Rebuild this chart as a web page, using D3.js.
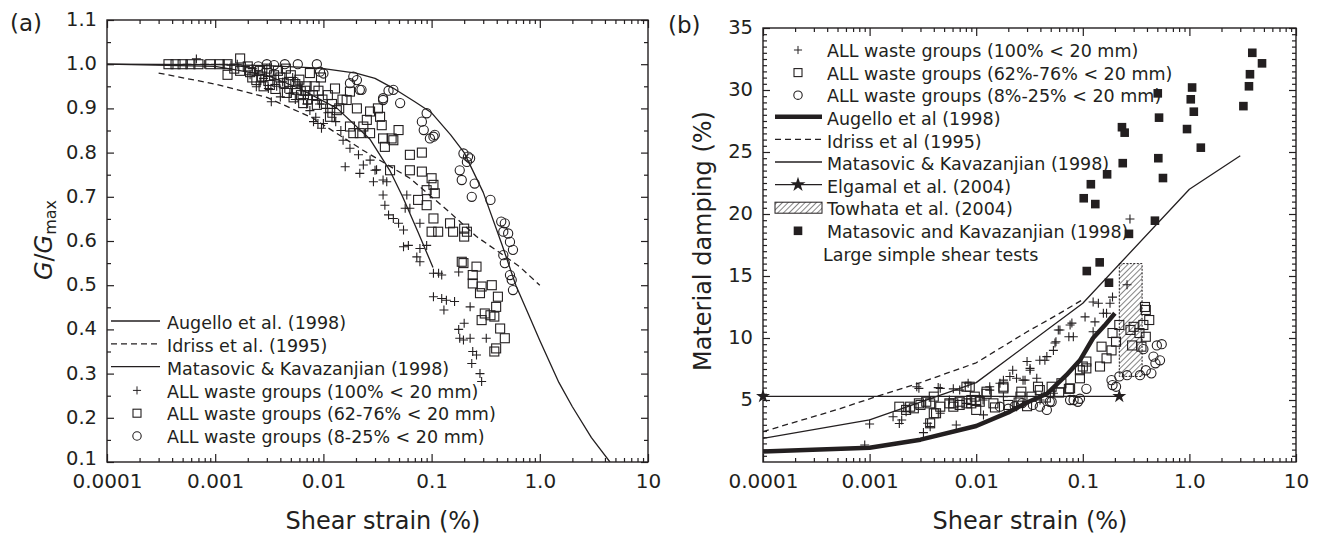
<!DOCTYPE html>
<html>
<head>
<meta charset="utf-8">
<script src="https://cdn.jsdelivr.net/npm/d3@7"></script>
<style>
  body { margin: 0; background: #fff; }
  svg text { font-family: "DejaVu Sans", Verdana, sans-serif; fill: #231f20; }
</style>
</head>
<body>
<svg id="chart" width="1319" height="535"></svg>
<script>
// ---------- shared axis values ----------
const strainTicks = [1e-4, 1e-3, 1e-2, 1e-1, 1, 10];
const strainTickLabels = ["0.0001", "0.001", "0.01", "0.1", "1.0", "10"];
const modulusTicks = [0.1, 0.2, 0.3, 0.4, 0.5, 0.6, 0.7, 0.8, 0.9, 1.0, 1.1];
const modulusTickLabels = ["0.1", "0.2", "0.3", "0.4", "0.5", "0.6", "0.7", "0.8", "0.9", "1.0", "1.1"];
const dampingTicks = [5, 10, 15, 20, 25, 30, 35];
const dampingTickLabels = ["5", "10", "15", "20", "25", "30", "35"];

// ---------- (a) modulus reduction: reference curves [strain %, G/Gmax] ----------
const aAugello = [[1e-4, 1.0], [0.001, 0.999], [0.003, 0.997], [0.0093, 0.991], [0.02, 0.98], [0.03, 0.968],
  [0.044, 0.946], [0.07, 0.915], [0.1, 0.89], [0.15, 0.84], [0.2, 0.80], [0.3, 0.71], [0.45, 0.59],
  [0.6, 0.50], [0.8, 0.43], [1.0, 0.375], [1.5, 0.28], [2.0, 0.225], [3.0, 0.155], [4.45, 0.1]];
const aIdriss = [[0.0003, 0.98], [0.001, 0.955], [0.003, 0.925], [0.008, 0.878], [0.023, 0.806],
  [0.063, 0.742], [0.15, 0.663], [0.26, 0.61], [0.46, 0.568], [0.65, 0.542], [1.0, 0.50]];
const aMatasovic = [[1e-4, 1.0], [0.001, 0.995], [0.003, 0.975], [0.006, 0.945], [0.0134, 0.90],
  [0.027, 0.83], [0.041, 0.76], [0.054, 0.70], [0.075, 0.62], [0.103, 0.54]];

// ---------- (a) test data [strain %, G/Gmax] ----------
const aFine = [[0.00055, 1.0], [0.00067, 1.012], [0.0008, 1.0], [0.001, 1.0], [0.0012, 1.0], [0.0014, 0.998],
  [0.0016, 1.0], [0.0019, 0.995], [0.0021, 0.976], [0.0022, 0.99], [0.0024, 0.949], [0.0025, 0.985],
  [0.0026, 0.96], [0.0028, 0.968], [0.003, 0.99], [0.0031, 0.945], [0.0033, 0.915], [0.0035, 0.975],
  [0.0037, 0.95], [0.004, 0.926], [0.0042, 0.96], [0.0044, 0.945], [0.0049, 0.934], [0.0052, 0.97],
  [0.0055, 0.92], [0.0058, 0.96], [0.0061, 0.949], [0.0065, 0.93], [0.0068, 0.94], [0.007, 0.91],
  [0.0075, 0.895], [0.0078, 0.92], [0.0081, 0.87], [0.0085, 0.88], [0.0089, 0.866], [0.0092, 0.91],
  [0.0096, 0.855], [0.01, 0.866], [0.0105, 0.9], [0.011, 0.89], [0.012, 0.88], [0.013, 0.87],
  [0.0145, 0.85], [0.0152, 0.828], [0.0159, 0.768], [0.0176, 0.81], [0.0211, 0.795], [0.0217, 0.753],
  [0.0234, 0.772], [0.027, 0.783], [0.029, 0.734], [0.030, 0.76], [0.031, 0.761], [0.0356, 0.738],
  [0.0356, 0.704], [0.037, 0.681], [0.0385, 0.734], [0.04, 0.659], [0.0443, 0.651], [0.0495, 0.64],
  [0.055, 0.625], [0.055, 0.587], [0.057, 0.674], [0.059, 0.704], [0.061, 0.59], [0.063, 0.674],
  [0.073, 0.564], [0.078, 0.64], [0.078, 0.583], [0.078, 0.553], [0.09, 0.59], [0.104, 0.527],
  [0.116, 0.527], [0.124, 0.523], [0.104, 0.474], [0.124, 0.47], [0.13, 0.444], [0.137, 0.466],
  [0.163, 0.463], [0.178, 0.53], [0.2, 0.414], [0.178, 0.40], [0.182, 0.38], [0.197, 0.376],
  [0.227, 0.451], [0.227, 0.38], [0.32, 0.38], [0.24, 0.35], [0.26, 0.342], [0.235, 0.323],
  [0.28, 0.30], [0.29, 0.282]];
const aMid = [[0.00037, 1.0], [0.00043, 1.0], [0.0005, 1.0], [0.00059, 1.0], [0.0007, 1.0], [0.0009, 1.0],
  [0.0011, 1.0], [0.0013, 0.976], [0.0013, 1.0], [0.0015, 0.99], [0.0017, 1.013], [0.0017, 0.985],
  [0.002, 0.995], [0.0021, 0.982], [0.0022, 0.97], [0.0024, 0.964], [0.0026, 0.985], [0.0027, 0.972],
  [0.0028, 0.95], [0.003, 0.99], [0.0031, 0.962], [0.0032, 0.953], [0.0035, 0.975], [0.0036, 0.944],
  [0.0038, 0.985], [0.004, 0.97], [0.0043, 0.957], [0.0045, 0.99], [0.0046, 0.935], [0.0048, 0.96],
  [0.005, 0.975], [0.0053, 0.925], [0.0055, 0.955], [0.0057, 0.942], [0.006, 0.965], [0.0062, 0.93],
  [0.0065, 0.912], [0.0068, 0.94], [0.007, 0.95], [0.0072, 0.92], [0.0075, 0.98], [0.008, 0.93],
  [0.0083, 0.95], [0.0087, 0.908], [0.009, 0.94], [0.0095, 0.97], [0.0098, 0.92], [0.011, 0.93],
  [0.0115, 0.881], [0.012, 0.91], [0.0128, 0.945], [0.0133, 0.896], [0.014, 0.9], [0.015, 0.92],
  [0.0164, 0.919], [0.0176, 0.938], [0.0176, 0.859], [0.0189, 0.844], [0.0204, 0.90], [0.0217, 0.844],
  [0.0234, 0.859], [0.0252, 0.874], [0.027, 0.893], [0.027, 0.844], [0.0319, 0.90], [0.0334, 0.881],
  [0.0346, 0.862], [0.0356, 0.832], [0.037, 0.813], [0.0413, 0.76], [0.0427, 0.832], [0.0443, 0.828],
  [0.0495, 0.851], [0.063, 0.795], [0.063, 0.76], [0.075, 0.693], [0.0813, 0.80], [0.0813, 0.757],
  [0.09, 0.715], [0.09, 0.681], [0.1, 0.742], [0.104, 0.727], [0.104, 0.651], [0.107, 0.708],
  [0.10, 0.621], [0.115, 0.621], [0.148, 0.64], [0.158, 0.621], [0.2, 0.628], [0.212, 0.621],
  [0.2, 0.61], [0.19, 0.553], [0.197, 0.55], [0.26, 0.542], [0.24, 0.523], [0.24, 0.504], [0.29, 0.497],
  [0.36, 0.50], [0.28, 0.482], [0.41, 0.474], [0.395, 0.451], [0.31, 0.436], [0.35, 0.432],
  [0.38, 0.429], [0.29, 0.421], [0.43, 0.402], [0.475, 0.38], [0.395, 0.357], [0.38, 0.35]];
const aCoarse = [[0.0025, 0.995], [0.003, 1.0], [0.0035, 0.998], [0.0044, 1.0], [0.0058, 1.0], [0.0087, 1.0],
  [0.0093, 0.983], [0.01, 0.979], [0.0176, 0.957], [0.0189, 0.972], [0.0204, 0.964], [0.0217, 0.942],
  [0.0225, 0.942], [0.0356, 0.923], [0.0356, 0.919], [0.04, 0.94], [0.0443, 0.942], [0.0512, 0.912],
  [0.0813, 0.87], [0.0846, 0.851], [0.09, 0.889], [0.0965, 0.832], [0.104, 0.836], [0.107, 0.84],
  [0.182, 0.76], [0.19, 0.738], [0.197, 0.798], [0.212, 0.779], [0.217, 0.791], [0.227, 0.787],
  [0.235, 0.70], [0.25, 0.73], [0.35, 0.693], [0.44, 0.644], [0.46, 0.621], [0.46, 0.568],
  [0.475, 0.64], [0.475, 0.55], [0.51, 0.617], [0.53, 0.598], [0.53, 0.523], [0.55, 0.512],
  [0.565, 0.58], [0.565, 0.489]];

// ---------- (b) damping: reference curves [strain %, damping %] ----------
const bAugello = [[1e-4, 0.85], [0.001, 1.15], [0.003, 1.8], [0.01, 2.9], [0.02, 4.0], [0.03, 4.8],
  [0.046, 5.5], [0.07, 7.0], [0.094, 8.2], [0.125, 10.0], [0.16, 11.0], [0.2, 12.0]];
const bIdriss = [[1e-4, 2.45], [0.00053, 4.3], [0.001, 5.1], [0.003, 6.4], [0.01, 8.0], [0.03, 10.5],
  [0.057, 11.85], [0.1, 13.1]];
const bMatasovic = [[1e-4, 1.9], [0.001, 3.4], [0.01, 6.4], [0.1, 12.8], [1.0, 22.0], [3.0, 24.7]];
const bElgamal = [[1e-4, 5.3], [0.22, 5.3]];
const towhataStrain = [0.22, 0.36];
const towhataDamping = [6.9, 16.0];
const bLargeShear = [[3.89, 33.0], [4.80, 32.15], [3.70, 31.27], [3.62, 30.3], [3.21, 28.7],
  [1.06, 30.2], [1.03, 29.25], [1.10, 28.25], [0.95, 26.85], [1.28, 25.35],
  [0.505, 29.73], [0.519, 27.77], [0.511, 24.5], [0.565, 22.9], [0.475, 19.46],
  [0.233, 27.0], [0.247, 26.56], [0.237, 24.1], [0.169, 23.2], [0.119, 22.4], [0.102, 21.27],
  [0.131, 20.8], [0.271, 18.4], [0.144, 16.1], [0.109, 15.4], [0.176, 14.46]];

// ---------- (b) test data [strain %, damping %] ----------
const bFine = [[0.0009, 1.37], [0.001, 3.06], [0.00166, 3.65], [0.0019, 3.1], [0.002, 3.39], [0.0022, 4.06],
  [0.00277, 6.07], [0.0029, 5.94], [0.0032, 2.37], [0.0035, 3.12], [0.0037, 2.85], [0.0044, 6.0],
  [0.0046, 3.93], [0.0046, 5.94], [0.0056, 5.0], [0.0061, 5.9], [0.0065, 2.98], [0.007, 5.8],
  [0.0081, 4.73], [0.0084, 6.35], [0.0116, 5.0], [0.0117, 3.8], [0.0134, 5.8], [0.0134, 6.07],
  [0.0167, 6.35], [0.018, 5.27], [0.018, 6.6], [0.0207, 6.9], [0.022, 7.4], [0.0239, 4.46],
  [0.0239, 6.75], [0.0275, 6.6], [0.0287, 6.6], [0.030, 8.1], [0.032, 7.4], [0.032, 7.55],
  [0.037, 6.75], [0.0395, 8.2], [0.0397, 5.0], [0.0441, 8.2], [0.046, 8.5], [0.053, 9.0], [0.053, 5.54],
  [0.0548, 9.6], [0.056, 9.7], [0.0589, 10.65], [0.061, 10.65], [0.074, 10.1], [0.076, 11.05],
  [0.079, 11.2], [0.0815, 10.1], [0.105, 11.7], [0.125, 10.5], [0.125, 12.9], [0.13, 11.3],
  [0.14, 12.8], [0.156, 12.0], [0.167, 12.0], [0.18, 12.8], [0.19, 13.3], [0.26, 14.3], [0.277, 19.6]];
const bMid = [[0.0019, 4.46], [0.0022, 4.2], [0.0024, 4.46], [0.0026, 4.33], [0.0029, 4.73], [0.003, 4.6],
  [0.0034, 4.86], [0.0037, 4.73], [0.0037, 3.12], [0.004, 5.27], [0.004, 3.93], [0.0042, 3.93],
  [0.0046, 4.46], [0.0056, 4.73], [0.0061, 4.46], [0.0061, 4.73], [0.007, 4.6], [0.007, 4.86],
  [0.0081, 4.73], [0.0081, 6.07], [0.0087, 6.07], [0.009, 5.0], [0.009, 4.73], [0.0097, 5.27],
  [0.01, 4.2], [0.01, 5.0], [0.0108, 4.86], [0.0125, 5.67], [0.0125, 5.5], [0.0145, 4.73], [0.015, 4.4],
  [0.018, 5.94], [0.018, 6.07], [0.02, 4.6], [0.025, 4.8], [0.026, 5.27], [0.0265, 5.67], [0.03, 4.5],
  [0.033, 5.27], [0.038, 6.07], [0.0395, 5.8], [0.045, 5.2], [0.051, 6.07], [0.06, 5.6], [0.063, 6.35],
  [0.074, 5.9], [0.076, 5.94], [0.094, 6.75], [0.094, 7.4], [0.10, 7.7], [0.108, 7.55], [0.108, 8.1],
  [0.145, 7.7], [0.15, 9.3], [0.167, 8.36], [0.186, 9.0], [0.19, 10.4], [0.205, 9.7], [0.22, 11.05],
  [0.28, 10.65], [0.29, 9.4], [0.30, 10.9], [0.34, 10.4], [0.355, 9.3], [0.37, 11.05], [0.383, 12.5],
  [0.39, 12.26], [0.39, 10.1], [0.42, 11.45]];
const bCoarse = [[0.0167, 4.46], [0.02, 4.3], [0.023, 4.5], [0.027, 4.75], [0.034, 4.6], [0.0395, 4.46],
  [0.046, 4.2], [0.049, 4.86], [0.051, 4.86], [0.076, 5.0], [0.082, 5.0], [0.09, 4.86], [0.094, 5.1],
  [0.108, 5.9], [0.186, 6.6], [0.19, 6.2], [0.205, 6.07], [0.22, 6.9], [0.26, 7.0], [0.344, 7.0],
  [0.37, 9.1], [0.39, 7.4], [0.44, 7.15], [0.46, 8.5], [0.48, 7.96], [0.495, 9.4], [0.53, 8.2], [0.55, 9.5]];

// ---------- drawing ----------
const ink = "#231f20";
const svg = d3.select("#chart");
const defs = svg.append("defs");

defs.append("pattern").attr("id", "hatch").attr("patternUnits", "userSpaceOnUse")
  .attr("width", 4).attr("height", 4).attr("patternTransform", "rotate(45)")
  .call(p => {
    p.append("rect").attr("width", 4).attr("height", 4).attr("fill", "#fff");
    p.append("line").attr("x1", 0).attr("y1", 0).attr("x2", 0).attr("y2", 4)
      .attr("stroke", "#444").attr("stroke-width", 1.3);
  });

const xA = d3.scaleLog().domain([1e-4, 10]).range([107, 648]);
const yA = d3.scaleLinear().domain([0.1, 1.1]).range([462, 20]);
const xB = d3.scaleLog().domain([1e-4, 10]).range([763, 1296]);
const yB = d3.scaleLinear().domain([0, 35]).range([462, 28]);

const strainMinor = [];
[1e-4, 1e-3, 1e-2, 1e-1, 1].forEach(d => { for (let k = 2; k <= 9; k++) strainMinor.push(d * k); });

function styleAxis(g, size) {
  g.attr("font-size", size).attr("font-family", null);
  g.select(".domain").remove();
  g.selectAll(".tick line").attr("stroke", ink).attr("stroke-width", 1.2);
}

function frame(x, y, yMajor, yMajorLabels, yMinor, clipId) {
  const [xl, xr] = x.range();
  const [yb, yt] = y.range();
  defs.append("clipPath").attr("id", clipId)
    .append("rect").attr("x", xl).attr("y", yt).attr("width", xr - xl).attr("height", yb - yt);

  // bottom
  svg.append("g").attr("transform", `translate(0,${yb})`)
    .call(d3.axisBottom(x).tickValues(strainTicks).tickFormat((d, i) => strainTickLabels[i])
      .tickSizeInner(-8).tickSizeOuter(0).tickPadding(12))
    .call(g => styleAxis(g, 20));
  svg.append("g").attr("transform", `translate(0,${yb})`)
    .call(d3.axisBottom(x).tickValues(strainMinor).tickFormat("").tickSizeInner(-4).tickSizeOuter(0))
    .call(g => styleAxis(g, 20));
  // top
  svg.append("g").attr("transform", `translate(0,${yt})`)
    .call(d3.axisTop(x).tickValues(strainTicks).tickFormat("").tickSizeInner(-8).tickSizeOuter(0))
    .call(g => styleAxis(g, 20));
  svg.append("g").attr("transform", `translate(0,${yt})`)
    .call(d3.axisTop(x).tickValues(strainMinor).tickFormat("").tickSizeInner(-4).tickSizeOuter(0))
    .call(g => styleAxis(g, 20));
  // left (the lowest label sits a little high so it clears the strain labels)
  svg.append("g").attr("transform", `translate(${xl},0)`)
    .call(d3.axisLeft(y).tickValues(yMajor).tickFormat((d, i) => yMajorLabels[i])
      .tickSizeInner(-7).tickSizeOuter(0).tickPadding(10))
    .call(g => styleAxis(g, 19.5))
    .call(g => g.selectAll(".tick text").attr("dy", (d, i) => i === 0 && y(d) > yb - 1 && yMajorLabels[0] === "0.1" ? "2px" : "0.28em"));
  svg.append("g").attr("transform", `translate(${xl},0)`)
    .call(d3.axisLeft(y).tickValues(yMinor).tickFormat("").tickSizeInner(-4).tickSizeOuter(0))
    .call(g => styleAxis(g, 20));
  // right
  svg.append("g").attr("transform", `translate(${xr},0)`)
    .call(d3.axisRight(y).tickValues(yMajor).tickFormat("").tickSizeInner(-7).tickSizeOuter(0))
    .call(g => styleAxis(g, 20));
  svg.append("g").attr("transform", `translate(${xr},0)`)
    .call(d3.axisRight(y).tickValues(yMinor).tickFormat("").tickSizeInner(-4).tickSizeOuter(0))
    .call(g => styleAxis(g, 20));

  svg.append("rect").attr("x", xl).attr("y", yt).attr("width", xr - xl).attr("height", yb - yt)
    .attr("fill", "none").attr("stroke", ink).attr("stroke-width", 1.4);
}

const PLUS = "M-4.5,0H4.5M0,-4.5V4.5";

function plusMarks(g, x, y, data, s = 1) {
  g.append("g").selectAll("path").data(data).join("path")
    .attr("transform", d => `translate(${x(d[0])},${y(d[1])}) scale(${s})`)
    .attr("d", PLUS).attr("fill", "none").attr("stroke", ink).attr("stroke-width", 1.1);
}
function squareMarks(g, x, y, data, side = 9) {
  g.append("g").selectAll("rect").data(data).join("rect")
    .attr("x", d => x(d[0]) - side / 2).attr("y", d => y(d[1]) - side / 2)
    .attr("width", side).attr("height", side)
    .attr("fill", "none").attr("stroke", ink).attr("stroke-width", 1.1);
}
function circleMarks(g, x, y, data, r = 4.6) {
  g.append("g").selectAll("circle").data(data).join("circle")
    .attr("cx", d => x(d[0])).attr("cy", d => y(d[1])).attr("r", r)
    .attr("fill", "none").attr("stroke", ink).attr("stroke-width", 1.1);
}
function curve(g, x, y, data, width, dash) {
  g.append("path").datum(data)
    .attr("d", d3.line().x(d => x(d[0])).y(d => y(d[1])))
    .attr("fill", "none").attr("stroke", ink).attr("stroke-width", width)
    .attr("stroke-dasharray", dash || null).attr("stroke-linejoin", "round");
}

// ===== panel (a) =====
const gMinorA = d3.range(0.15, 1.1, 0.1).map(v => +v.toFixed(2));
frame(xA, yA, modulusTicks, modulusTickLabels, gMinorA, "clipA");
const plotA = svg.append("g").attr("clip-path", "url(#clipA)");
curve(plotA, xA, yA, aAugello, 1.3);
curve(plotA, xA, yA, aIdriss, 1.3, "6,4");
curve(plotA, xA, yA, aMatasovic, 1.3);
plusMarks(plotA, xA, yA, aFine);
squareMarks(plotA, xA, yA, aMid);
circleMarks(plotA, xA, yA, aCoarse);

// legend (a)
const legA = svg.append("g").attr("font-size", 17.5);
const legARows = [
  { kind: "line", label: "Augello et al. (1998)" },
  { kind: "dash", label: "Idriss et al. (1995)" },
  { kind: "line", label: "Matasovic & Kavazanjian (1998)" },
  { kind: "plus", label: "ALL waste groups (100% < 20 mm)" },
  { kind: "square", label: "ALL waste groups (62-76% < 20 mm)" },
  { kind: "circle", label: "ALL waste groups (8-25% < 20 mm)" }
];
legARows.forEach((r, i) => {
  const yy = 323 + i * 22.8;
  if (r.kind === "line" || r.kind === "dash") {
    legA.append("line").attr("x1", 111).attr("x2", 160).attr("y1", yy - 2).attr("y2", yy - 2)
      .attr("stroke", ink).attr("stroke-width", 1.3).attr("stroke-dasharray", r.kind === "dash" ? "6,4" : null);
  } else if (r.kind === "plus") {
    legA.append("path").attr("transform", `translate(137,${yy - 1}) scale(0.9)`).attr("d", PLUS)
      .attr("stroke", ink).attr("stroke-width", 1.1).attr("fill", "none");
  } else if (r.kind === "square") {
    legA.append("rect").attr("x", 133).attr("y", yy - 5).attr("width", 8).attr("height", 8)
      .attr("fill", "none").attr("stroke", ink).attr("stroke-width", 1.1);
  } else {
    legA.append("circle").attr("cx", 137).attr("cy", yy - 1).attr("r", 4.2)
      .attr("fill", "none").attr("stroke", ink).attr("stroke-width", 1.1);
  }
  legA.append("text").attr("x", 167).attr("y", yy).attr("dy", "0.35em").text(r.label);
});

// axis titles (a)
svg.append("text").attr("x", 10).attr("y", 31).attr("font-size", 23).text("(a)");
svg.append("text").attr("x", 383).attr("y", 529).attr("text-anchor", "middle").attr("font-size", 24)
  .text("Shear strain (%)");
const yTitleA = svg.append("text").attr("transform", "translate(52,240) rotate(-90)")
  .attr("text-anchor", "middle").attr("font-size", 24);
yTitleA.append("tspan").attr("font-style", "italic").text("G");
yTitleA.append("tspan").text("/");
yTitleA.append("tspan").attr("font-style", "italic").text("G");
yTitleA.append("tspan").attr("font-size", 16).attr("dy", 4).text("max");

// ===== panel (b) =====
const dMinor = d3.range(0.5, 35, 0.5).filter(v => v % 5 !== 0);
frame(xB, yB, dampingTicks, dampingTickLabels, dMinor, "clipB");
const plotB = svg.append("g").attr("clip-path", "url(#clipB)");

// Towhata et al. band
plotB.append("rect")
  .attr("x", xB(towhataStrain[0])).attr("width", xB(towhataStrain[1]) - xB(towhataStrain[0]))
  .attr("y", yB(towhataDamping[1])).attr("height", yB(towhataDamping[0]) - yB(towhataDamping[1]))
  .attr("fill", "url(#hatch)").attr("stroke", ink).attr("stroke-width", 1).attr("stroke-dasharray", "2,1.5");

curve(plotB, xB, yB, bIdriss, 1.3, "6,4");
curve(plotB, xB, yB, bMatasovic, 1.3);
curve(plotB, xB, yB, bElgamal, 1.2);
plusMarks(plotB, xB, yB, bFine);
squareMarks(plotB, xB, yB, bMid, 9);
circleMarks(plotB, xB, yB, bCoarse);
curve(plotB, xB, yB, bAugello, 4.5);
svg.append("g").selectAll("path").data(bElgamal).join("path")
  .attr("transform", d => `translate(${xB(d[0])},${yB(d[1])})`)
  .attr("d", d3.symbol(d3.symbolStar, 60)).attr("fill", ink);
svg.append("g").selectAll("rect").data(bLargeShear).join("rect")
  .attr("x", d => xB(d[0]) - 4.3).attr("y", d => yB(d[1]) - 4.3)
  .attr("width", 8.6).attr("height", 8.6).attr("fill", ink);

// legend (b)
const legB = svg.append("g").attr("font-size", 17.5);
const legBRows = [
  { kind: "plus", label: "ALL waste groups (100% < 20 mm)" },
  { kind: "square", label: "ALL waste groups (62%-76% < 20 mm)" },
  { kind: "circle", label: "ALL waste groups (8%-25% < 20 mm)" },
  { kind: "thick", label: "Augello et al (1998)" },
  { kind: "dash", label: "Idriss et al (1995)" },
  { kind: "line", label: "Matasovic & Kavazanjian (1998)" },
  { kind: "star", label: "Elgamal et al. (2004)" },
  { kind: "hatch", label: "Towhata et al. (2004)" },
  { kind: "filled", label: "Matasovic and Kavazanjian (1998)" }
];
legBRows.forEach((r, i) => {
  const yy = 51 + i * 22.6;
  const cx = 798;
  if (r.kind === "plus") {
    legB.append("path").attr("transform", `translate(${cx},${yy - 1}) scale(0.9)`).attr("d", PLUS)
      .attr("stroke", ink).attr("stroke-width", 1.1).attr("fill", "none");
  } else if (r.kind === "square") {
    legB.append("rect").attr("x", cx - 4).attr("y", yy - 5).attr("width", 8).attr("height", 8)
      .attr("fill", "none").attr("stroke", ink).attr("stroke-width", 1.1);
  } else if (r.kind === "circle") {
    legB.append("circle").attr("cx", cx).attr("cy", yy - 1).attr("r", 4.2)
      .attr("fill", "none").attr("stroke", ink).attr("stroke-width", 1.1);
  } else if (r.kind === "hatch") {
    legB.append("rect").attr("x", 775).attr("y", yy - 7).attr("width", 47).attr("height", 11)
      .attr("fill", "url(#hatch)").attr("stroke", ink).attr("stroke-width", 1);
  } else if (r.kind === "filled") {
    legB.append("rect").attr("x", cx - 4.3).attr("y", yy - 5.3).attr("width", 8.6).attr("height", 8.6)
      .attr("fill", ink);
  } else {
    legB.append("line").attr("x1", 775).attr("x2", 822).attr("y1", yy - 2).attr("y2", yy - 2)
      .attr("stroke", ink).attr("stroke-width", r.kind === "thick" ? 4.5 : 1.3)
      .attr("stroke-dasharray", r.kind === "dash" ? "6,4" : null);
    if (r.kind === "star") {
      legB.append("path").attr("transform", `translate(${cx},${yy - 2})`)
        .attr("d", d3.symbol(d3.symbolStar, 70)).attr("fill", ink);
    }
  }
  legB.append("text").attr("x", 827).attr("y", yy).attr("dy", "0.35em").text(r.label);
});
legB.append("text").attr("x", 823).attr("y", 51 + 9 * 22.6).attr("dy", "0.35em").text("Large simple shear tests");

// axis titles (b)
svg.append("text").attr("x", 668).attr("y", 33).attr("font-size", 23).text("(b)");
svg.append("text").attr("x", 1030).attr("y", 529).attr("text-anchor", "middle").attr("font-size", 24)
  .text("Shear strain (%)");
svg.append("text").attr("transform", "translate(711,241) rotate(-90)")
  .attr("text-anchor", "middle").attr("font-size", 24).text("Material damping (%)");
</script>
</body>
</html>
